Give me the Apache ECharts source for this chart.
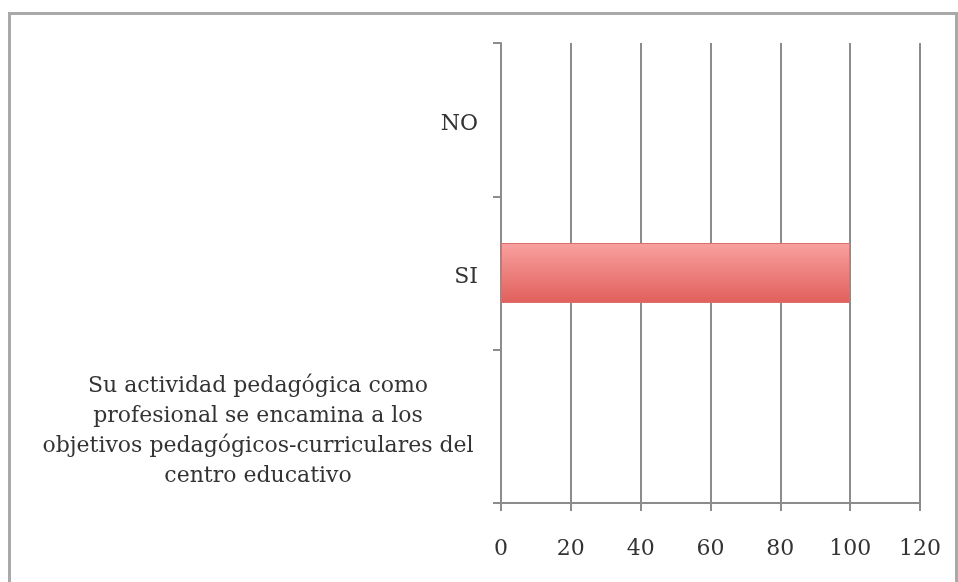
<!DOCTYPE html>
<html>
<head>
<meta charset="utf-8">
<script src="https://cdn.jsdelivr.net/npm/echarts@6/dist/echarts.min.js"></script>
<style>html,body{margin:0;padding:0;background:#fff;}#c{width:958px;height:582px;}</style>
</head>
<body>
<div id="c"></div>
<script>
const categories = ['Su actividad pedagógica como\nprofesional se encamina a los\nobjetivos pedagógicos-curriculares del\ncentro educativo', 'SI', 'NO'];
const values = [null, 100, null];
const xTicks = { min: 0, max: 120, interval: 20 };

const chart = echarts.init(document.getElementById('c'));
chart.setOption({
  backgroundColor: '#ffffff',
  animation: false,
  textStyle: { fontFamily: 'DejaVu Serif' },
  graphic: [{
    type: 'rect', silent: true,
    shape: { x: 9.5, y: 13.5, width: 947, height: 700 },
    style: { fill: 'none', stroke: '#a9a9a9', lineWidth: 3 }
  }],
  grid: { left: 501, right: 38, top: 43, bottom: 79 },
  xAxis: {
    type: 'value', min: xTicks.min, max: xTicks.max, interval: xTicks.interval,
    axisLine: { show: true, lineStyle: { color: '#8c8c8c', width: 2 } },
    axisTick: { show: true, length: 8, lineStyle: { color: '#8c8c8c', width: 2 } },
    splitLine: { show: true, lineStyle: { color: '#8c8c8c', width: 2 } },
    axisLabel: { color: '#333333', fontSize: 22, margin: 35, fontFamily: 'DejaVu Serif' }
  },
  yAxis: {
    type: 'category', data: categories,
    axisLine: { show: true, lineStyle: { color: '#8c8c8c', width: 2 } },
    axisTick: { show: true, length: 8, lineStyle: { color: '#8c8c8c', width: 2 } },
    axisLabel: {
      color: '#333333', fontSize: 22, margin: 23, align: 'right', fontFamily: 'DejaVu Serif',
      padding: [9, 0, 0, 0],
      formatter: function (v) {
        if (v.indexOf('\n') < 0) return v;
        return v.split('\n').map(function (l) { return '{w|' + l + '}'; }).join('\n');
      },
      rich: {
        w: { width: 440, align: 'center', fontSize: 22, lineHeight: 30, color: '#333333', fontFamily: 'DejaVu Serif' }
      }
    }
  },
  series: [{
    type: 'bar', data: values, barWidth: 60,
    itemStyle: {
      color: new echarts.graphic.LinearGradient(0, 0, 0, 1, [
        { offset: 0, color: '#f9a19f' },
        { offset: 1, color: '#e05f5b' }
      ]),
      borderColor: '#d9706c', borderWidth: 1
    }
  }]
});
</script>
</body>
</html>
